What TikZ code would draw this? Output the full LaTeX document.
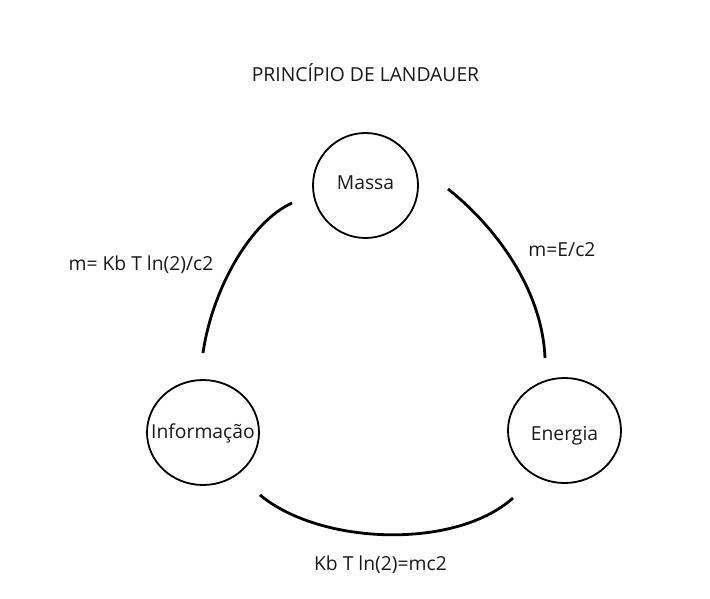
\documentclass[tikz,border=0pt]{standalone}
\usepackage{fontspec}
\setmainfont{Open Sans}
\usetikzlibrary{shapes.geometric}
\begin{document}
\begin{tikzpicture}[x=1pt,y=-1pt,
  lbl/.style={font=\fontsize{19.3}{22}\selectfont, inner sep=0pt, anchor=base, text=black!90},
  bubble/.style={draw=black, line width=1.8pt, ellipse, inner sep=0pt},
  link/.style={draw=black, line width=2.8pt}]
\useasboundingbox[fill=white] (0,0) rectangle (710,599);
% nodes
\node[bubble, minimum width=105pt, minimum height=105pt] (massa) at (365.5,185.5) {};
\node[bubble, minimum width=112pt, minimum height=105pt] (info) at (203,432.5) {};
\node[bubble, minimum width=113pt, minimum height=105pt] (energia) at (564.5,430.5) {};
\node[lbl] (tmassa) at (365.5,189.5) {Massa};
\node[lbl] (tinfo) at (203,438) {Informação};
\node[lbl] (tenergia) at (564.5,440) {Energia};
% title
\node[lbl] (title) at (365.5,82) {PRINCÍPIO DE LANDAUER};
% connector ends
\coordinate (a1) at (292,203);
\coordinate (a2) at (203,353);
\coordinate (b1) at (448,189);
\coordinate (b2) at (545,358);
\coordinate (c1) at (260,495);
\coordinate (c2) at (513,498);
\draw[link] (a1) .. controls (250,222) and (212,290) .. (a2);
\draw[link] (b1) .. controls (490,222) and (542,285) .. (b2);
\draw[link] (c1) .. controls (320,545) and (455,550) .. (c2);
% labels
\node[lbl] (la) at (141,270) {m= Kb T ln(2)/c2};
\node[lbl] (lb) at (562,256) {m=E/c2};
\node[lbl] (lc) at (380.5,570) {Kb T ln(2)=mc2};
\end{tikzpicture}
\end{document}
